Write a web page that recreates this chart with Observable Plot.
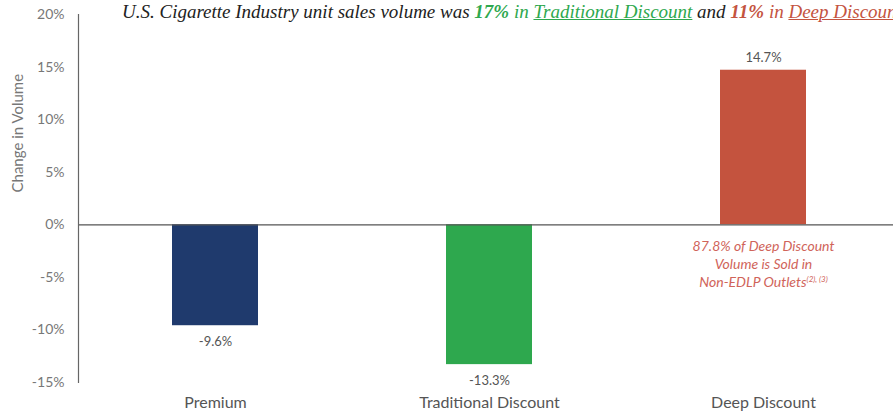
<!DOCTYPE html>
<html>
<head>
<meta charset="utf-8">
<script src="https://cdn.jsdelivr.net/npm/d3@7"></script>
<script src="https://cdn.jsdelivr.net/npm/@observablehq/plot@0.6"></script>
<style>
  html, body { margin: 0; padding: 0; background: #fff; overflow: hidden; width: 893px; height: 417px; }
  #wrap { position: relative; width: 893px; height: 417px; overflow: hidden; }
  #title { position: absolute; left: 122px; top: 1px; white-space: nowrap;
    font-family: "Liberation Serif", "DejaVu Serif", serif; font-style: italic; font-size: 19px; color: #222; }
  #title .g { color: #2ea84e; }
  #title .r { color: #c4543f; }
  #title b { font-weight: bold; }
  #title u { text-decoration: underline; text-decoration-thickness: 1px; }
  svg { position: absolute; left: 0; top: 0; }
</style>
</head>
<body>
<div id="wrap">
  <div id="chart"></div>
  <div id="title">U.S. Cigarette Industry unit sales volume was <b class="g">17%</b> <span class="g">in <u>Traditional Discount</u></span> and <b class="r">11%</b> <span class="r">in <u>Deep Discount</u></span></div>
</div>
<script>
const categories = ["Premium", "Traditional Discount", "Deep Discount"];
const values = [-9.6, -13.3, 14.7];
const barColors = ["#1f3a6d", "#2ea84e", "#c4533e"];
const valueLabels = ["-9.6%", "-13.3%", "14.7%"];
const yTicks = [-15, -10, -5, 0, 5, 10, 15, 20];
const yTitle = "Change in Volume";
const noteLines = ["87.8% of Deep Discount", "Volume is Sold in", "Non-EDLP Outlets"];
const noteSup = "(2), (3)";
const noteCategory = "Deep Discount";

const data = categories.map((c, i) => ({category: c, value: values[i], color: barColors[i], label: valueLabels[i]}));

const font = "Lato, 'Open Sans', sans-serif";

const chart = Plot.plot({
  width: 893,
  height: 417,
  marginLeft: 78,
  marginRight: 0,
  marginTop: 14,
  marginBottom: 35,
  style: {fontFamily: font, background: "transparent"},
  x: {domain: categories, range: [78, 900], paddingInner: 0.686, paddingOuter: 0.343, align: 0.5},
  y: {domain: [-15, 20]},
  marks: [
    Plot.barY(data, {x: "category", y: "value", fill: d => d.color}),
    Plot.ruleY([0], {stroke: "#555", strokeWidth: 1.2}),
    Plot.frame({anchor: "left", stroke: "#666", strokeWidth: 1.2}),
    Plot.axisY({ticks: yTicks, tickFormat: d => d + "%", tickSize: 0, tickPadding: 14,
      fontSize: 14, fill: "#777", label: null}),
    Plot.text([yTitle], {frameAnchor: "left", rotate: -90, dx: -60, dy: -6, fontSize: 15, fill: "#777"}),
    Plot.axisX({tickSize: 0, tickPadding: 14, fontSize: 16, fill: "#555", label: null}),
    Plot.text(data, {filter: d => d.value >= 0, x: "category", y: "value", text: "label",
      dy: -12, fontSize: 13, fill: "#555"}),
    Plot.text(data, {filter: d => d.value < 0, x: "category", y: "value", text: "label",
      dy: 16, fontSize: 13, fill: "#555"}),
    Plot.text([noteLines.join("\n")], {x: () => noteCategory, y: () => 0, dy: 14, lineAnchor: "top", lineHeight: 1.27,
      fontSize: 14, fill: "#d0645a", fontStyle: "italic", className: "note"})
  ]
});
document.getElementById("chart").appendChild(chart);
// add superscript to last note line
const tspans = chart.querySelectorAll(".note tspan");
const last = tspans[tspans.length - 1];
if (last) {
  const sup = document.createElementNS("http://www.w3.org/2000/svg", "tspan");
  sup.setAttribute("font-size", "8");
  sup.setAttribute("dy", "-0.6em");
  sup.textContent = noteSup;
  last.parentNode.insertBefore(sup, last.nextSibling);
}
</script>
</body>
</html>
